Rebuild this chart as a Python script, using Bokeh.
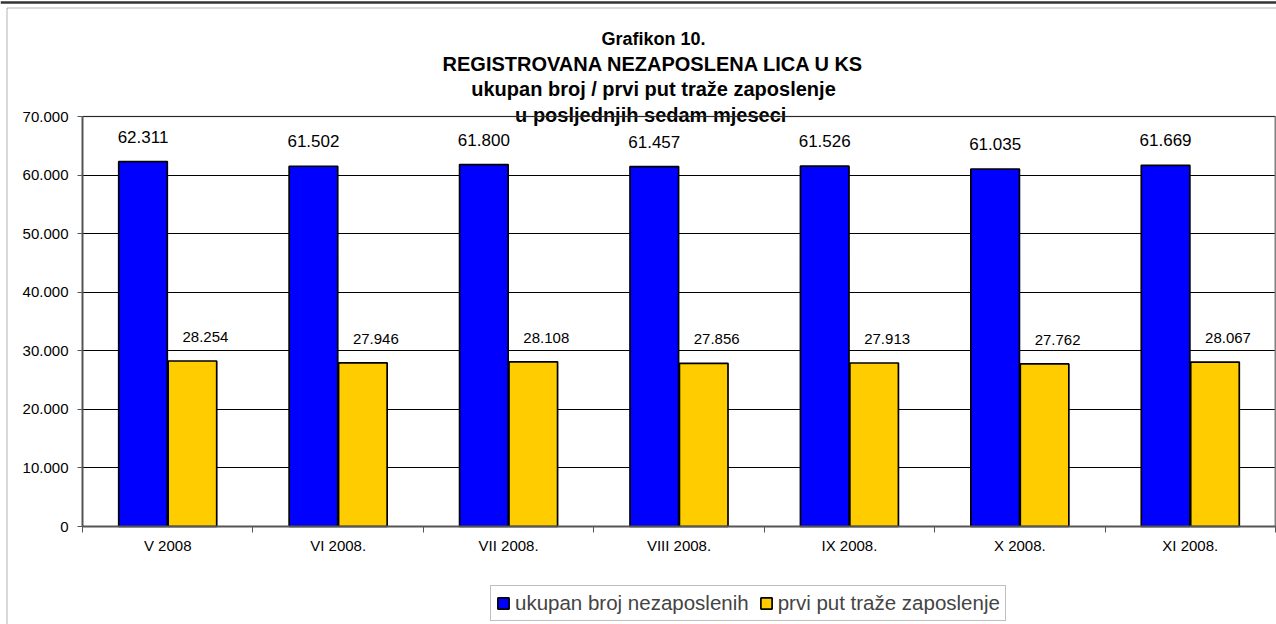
from bokeh.plotting import figure
from bokeh.models import (ColumnDataSource, FixedTicker, Legend, LegendItem, Label,
                          LabelSet, BoxAnnotation, Range1d, Span)
from bokeh.core.properties import value
from bokeh.embed import file_html
from bokeh.resources import INLINE

categories = ["V 2008", "VI 2008.", "VII 2008.", "VIII 2008.", "IX 2008.", "X 2008.", "XI 2008."]
ukupan = [62311, 61502, 61800, 61457, 61526, 61035, 61669]
prvi_put = [28254, 27946, 28108, 27856, 27913, 27762, 28067]
series_names = ["ukupan broj nezaposlenih", "prvi put traže zaposlenje"]
y_ticks = [0, 10000, 20000, 30000, 40000, 50000, 60000, 70000]
title_lines = ["Grafikon 10.", "REGISTROVANA NEZAPOSLENA LICA U KS",
               "ukupan broj / prvi put traže zaposlenje", "u posljednjih sedam  mjeseci"]

FONT = "Liberation Sans"

# canvas / plot-area geometry in pixels (layout only)
W, H = 1276, 624
PL, PR, PT, PB = 82, 1275, 116, 526


def fmt(v):
    return f"{v:,}".replace(",", ".")


n = len(categories)
ymax = y_ticks[-1]
centers = [i + 0.5 for i in range(n)]
off = 0.145
bw = 0.285

xs = n / (PR - PL)
ys = ymax / (PB - PT)
x_range = Range1d(-PL * xs, n + (W - PR) * xs)
y_range = Range1d(-(H - PB) * ys, ymax + PT * ys)

src = ColumnDataSource(dict(
    xb=[c - off for c in centers],
    xy=[c + off for c in centers],
    ukupan=ukupan,
    prvi=prvi_put,
    lab_u=[fmt(v) for v in ukupan],
    lab_p=[fmt(v) for v in prvi_put],
))

p = figure(width=W, height=H, output_backend="svg", toolbar_location=None,
           x_range=x_range, y_range=y_range,
           min_border_left=0, min_border_right=0, min_border_top=0, min_border_bottom=0)
p.background_fill_color = "white"
p.border_fill_color = "white"
p.outline_line_color = None

# gridlines limited to plot area
yg = p.ygrid[0]
p.xgrid.visible = False
if "cross_bounds" in yg.properties():
    yg.cross_bounds = (0, n)
    yg.bounds = (0, ymax)
    yg.grid_line_color = "black"
    yg.grid_line_width = 1
else:
    yg.visible = False
    p.segment(x0=[0] * len(y_ticks), x1=[n] * len(y_ticks), y0=y_ticks, y1=y_ticks,
              line_color="black", line_width=1)

r1 = p.vbar(x="xb", top="ukupan", width=bw, source=src, fill_color="#0000FF",
            line_color="black", line_width=1.7)
r2 = p.vbar(x="xy", top="prvi", width=bw, source=src, fill_color="#FFCC00",
            line_color="black", line_width=1.7)

p.add_layout(LabelSet(x="xb", y="ukupan", text="lab_u", source=src, y_offset=25,
                      text_align="center", text_baseline="middle",
                      text_font=value(FONT), text_font_size="17px", text_color="black"))
p.add_layout(LabelSet(x="xy", y="prvi", text="lab_p", source=src, y_offset=24, x_offset=13,
                      text_align="center", text_baseline="middle",
                      text_font=value(FONT), text_font_size="15px", text_color="black"))

# axes fixed at the plot-area edges
p.xaxis.fixed_location = 0
p.xaxis.bounds = (0, n)
p.xaxis.ticker = FixedTicker(ticks=centers, minor_ticks=list(range(n + 1)))
p.xaxis.major_label_overrides = {c: cat for c, cat in zip(centers, categories)}
p.xaxis.major_tick_out = 0
p.xaxis.major_tick_in = 0
p.xaxis.minor_tick_out = 6
p.xaxis.minor_tick_in = 0
p.xaxis.minor_tick_line_color = "#555555"
p.xaxis.major_label_standoff = 4

p.yaxis.fixed_location = 0
p.yaxis.bounds = (0, ymax)
p.yaxis.ticker = FixedTicker(ticks=y_ticks, minor_ticks=[])
p.yaxis.major_label_overrides = {t: fmt(t) for t in y_ticks}
p.yaxis.major_tick_out = 5
p.yaxis.major_tick_in = 0
p.yaxis.major_label_standoff = 9

for ax in (p.xaxis, p.yaxis):
    ax.axis_line_color = "#555555"
    ax.axis_line_width = 2
    ax.major_tick_line_color = "#555555"
    ax.major_label_text_font = FONT
    ax.major_label_text_font_size = "15px"
    ax.major_label_text_color = "black"

# titles
title_sizes = ["18px", "20px", "20px", "20px"]
title_y = [38, 63, 88, 114]
for t, s, yy in zip(title_lines, title_sizes, title_y):
    p.add_layout(Label(x=653, y=H - yy, x_units="screen", y_units="screen", text=t,
                       text_align="center", text_baseline="middle", text_font=FONT,
                       text_font_size=s, text_font_style="bold", text_color="black"))

# plot-area border: top edge (over the last title line, as in the original) and right edge
p.add_layout(BoxAnnotation(left=0, right=n, bottom=ymax, top=ymax, fill_alpha=0,
                           line_color="#808080", line_width=2))
p.segment(x0=[n], y0=[0], x1=[n], y1=[ymax], line_color="#808080", line_width=2)

# legend
legend = Legend(items=[LegendItem(label=series_names[0], renderers=[r1]),
                       LegendItem(label=series_names[1], renderers=[r2])],
                orientation="horizontal", location=(490, 3),
                glyph_width=14, glyph_height=14, label_text_font=FONT,
                label_text_font_size="20.5px", label_standoff=5, spacing=10,
                padding=5, margin=0, border_line_color="#808080", border_line_width=1,
                background_fill_color="white", background_fill_alpha=1)
p.add_layout(legend, "center")

# outer chart border and the rule above it
p.add_layout(BoxAnnotation(left=6.5, right=5000, bottom=-1000, top=H - 7.5,
                           left_units="screen", right_units="screen",
                           bottom_units="screen", top_units="screen",
                           fill_alpha=0, line_color="black", line_width=1))
p.add_layout(Span(location=H - 2, location_units="screen", dimension="width",
                  line_color="#333333", line_width=2.5))

open("out.html", "w").write(file_html(p, INLINE))
